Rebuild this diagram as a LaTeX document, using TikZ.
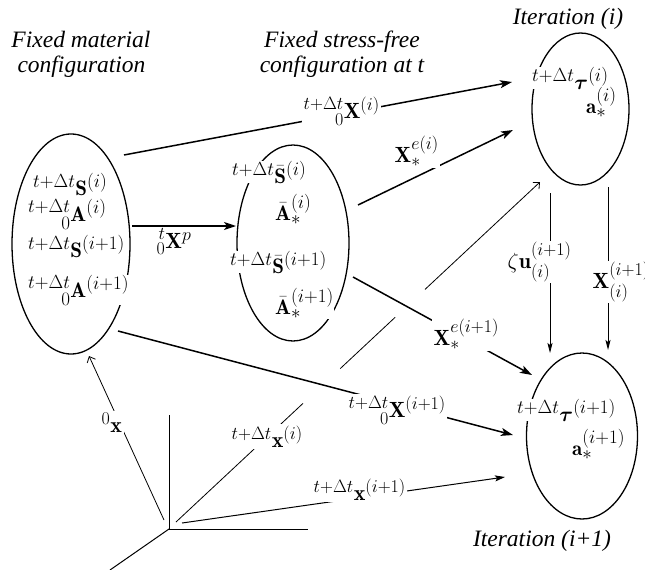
\RequirePackage{fix-cm}
\documentclass[tikz,border=0pt]{standalone}
\usepackage{amsmath,mathtools}
\usepackage{fontspec}
\newfontfamily\capfont{Liberation Serif}
\DeclareMathSizes{21}{21}{19}{14}
\DeclareMathSizes{22}{22}{18}{13}
\usetikzlibrary{shapes.geometric,arrows.meta,calc}
\tikzset{
 conf/.style={ellipse,draw,line width=1.3pt,inner sep=0pt},
 etext/.style={anchor=base west,fill=white,inner sep=0pt,font=\fontsize{21}{24}\selectfont},
 lbl/.style={anchor=base west,fill=white,inner sep=1.5pt,font=\fontsize{22}{26}\selectfont},
 captext/.style={anchor=base,inner sep=0pt,font=\capfont\itshape\fontsize{23.5}{26}\selectfont},
 thickarr/.style={line width=1.5pt,-{Stealth[length=12pt,width=8pt,inset=3pt]}},
 thinarr/.style={line width=0.8pt,-{Stealth[length=10pt,width=5pt,inset=2pt]}},
 hair/.style={line width=0.8pt},
 barb/.style={line width=0.8pt,-{Straight Barb[length=5pt,width=9pt]}},
 axis/.style={line width=1pt},
}
\begin{document}
\begin{tikzpicture}[x=1pt,y=-1pt]
\useasboundingbox (0,0) rectangle (645,570);
% configurations
\node[conf,minimum width=118pt,minimum height=220pt] (L) at (71,244) {};
\node[conf,minimum width=112pt,minimum height=196pt] (M) at (293,243) {};
\node[conf,minimum width=97pt,minimum height=152pt] (T) at (580.5,109) {};
\node[conf,minimum width=111pt,minimum height=166pt] (B) at (582,436) {};
% captions
\node[captext] (c1) at (81,47) {Fixed material};
\node[captext] (c2) at (81.5,72) {configuration};
\node[captext] (c3) at (342,47) {Fixed stress-free};
\node[captext] (c4) at (342,72) {configuration at t};
\node[captext] (c5) at (568,24) {Iteration (i)};
\node[captext] (c6) at (542,546) {Iteration (i+1)};
% axes
\coordinate (O) at (169,529);
\coordinate (Oy) at (169,415);
\coordinate (Ox) at (308,529);
\coordinate (Oz) at (110,570);
\draw[axis] (Oy) -- (O) -- (Ox);
\draw[axis] (O) -- (Oz);
% connector end points
\coordinate (a1) at (132,226); \coordinate (a2) at (236,226);
\coordinate (b1) at (124,155); \coordinate (b2) at (512,82);
\coordinate (e1) at (358,205); \coordinate (e2) at (513,130);
\coordinate (f1) at (353,277); \coordinate (f2) at (532,375);
\coordinate (h1) at (118,331); \coordinate (h2) at (513,435);
\coordinate (d0) at (176,522); \coordinate (d1) at (540,182);
\coordinate (k1) at (182,523); \coordinate (k2) at (505,477);
\coordinate (z1) at (164,520); \coordinate (z2) at (89,356);
\coordinate (u1) at (550,193); \coordinate (u2) at (550,353);
\coordinate (v1) at (608,187); \coordinate (v2) at (608,350);
% connectors
\draw[thickarr] (a1) -- (a2);
\draw[thickarr] (b1) -- (b2);
\draw[thickarr] (e1) -- (e2);
\draw[thickarr] (f1) -- (f2);
\draw[thickarr] (h1) -- (h2);
\draw[hair] (d0) -- ($(d0)!0.349!(d1)$);
\draw[hair] ($(d0)!0.451!(d1)$) -- ($(d0)!0.602!(d1)$);
\draw[barb] ($(d0)!0.684!(d1)$) -- (d1);
\draw[line width=1pt,-{Stealth[length=10pt,width=6pt,inset=2pt]}] (k1) -- (k2);
\draw[barb] (z1) -- (z2);
\draw[thinarr] (u1) -- (u2);
\draw[thinarr,line width=1pt] (v1) -- (v2);
% contents of configurations
\node[etext] (L1) at (33,195) {${}^{t+\Delta t}\mathbf{S}^{(i)}$};
\node[etext] (L2) at (28,221) {$\prescript{t+\Delta t}{0}{\mathbf{A}}^{(i)}$};
\node[etext] (L3) at (28,257) {${}^{t+\Delta t}\mathbf{S}^{(i+1)}$};
\node[etext] (L4) at (28,297) {$\prescript{t+\Delta t}{0}{\mathbf{A}}^{(i+1)}$};
\node[etext] (M1) at (232,183) {${}^{t+\Delta t}\bar{\mathbf{S}}^{(i)}$};
\node[etext] (M2) at (275,220) {$\bar{\mathbf{A}}_*^{(i)}$};
\node[etext] (M3) at (230,273) {${}^{t+\Delta t}\bar{\mathbf{S}}^{(i+1)}$};
\node[etext] (M4) at (275,314) {$\bar{\mathbf{A}}_*^{(i+1)}$};
\node[etext] (T1) at (532,89) {${}^{t+\Delta t}\boldsymbol{\tau}^{(i)}$};
\node[etext] (T2) at (586,113) {$\mathbf{a}_*^{(i)}$};
\node[etext] (B1) at (517,421) {${}^{t+\Delta t}\boldsymbol{\tau}^{(i+1)}$};
\node[etext] (B2) at (572,455) {$\mathbf{a}_*^{(i+1)}$};
% connector labels
\node[lbl] (lXp) at (155,248) {$\prescript{t}{0}{\mathbf{X}}^{p}$};
\node[lbl] (lXi) at (302,118) {$\prescript{t+\Delta t}{0}{\mathbf{X}}^{(i)}$};
\node[lbl] (lXei) at (393,162) {$\mathbf{X}_*^{e(i)}$};
\node[lbl] (lXei1) at (432,345) {$\mathbf{X}_*^{e(i+1)}$};
\node[lbl] (lXi1) at (347,417) {$\prescript{t+\Delta t}{0}{\mathbf{X}}^{(i+1)}$};
\node[lbl] (l0x) at (100,432) {${}^{0}\mathbf{x}$};
\node[lbl] (lxi) at (230,447) {${}^{t+\Delta t}\mathbf{x}^{(i)}$};
\node[lbl] (lxi1) at (312,500) {${}^{t+\Delta t}\mathbf{x}^{(i+1)}$};
\node[lbl] (lzu) at (506,268) {$\zeta\mathbf{u}_{(i)}^{(i+1)}$};
\node[lbl] (lXv) at (591,288) {$\mathbf{X}_{(i)}^{(i+1)}$};
\end{tikzpicture}
\end{document}
